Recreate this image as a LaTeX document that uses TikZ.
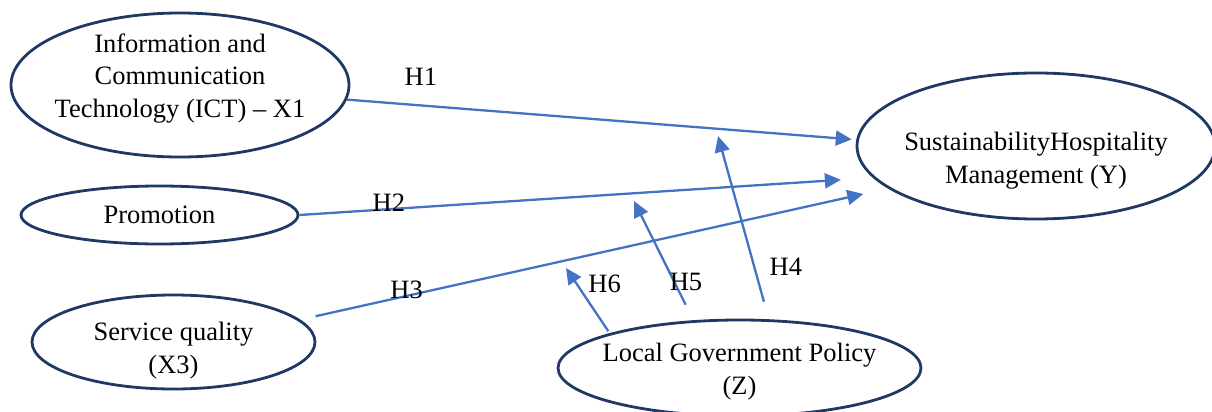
\documentclass[tikz,border=0pt]{standalone}
\usepackage{fontspec}
\setmainfont{Liberation Serif}
\usepackage{tikz}
\usetikzlibrary{shapes.geometric,arrows.meta}

\definecolor{ovalline}{HTML}{203864}
\definecolor{hypline}{HTML}{4472C4}

\begin{document}
\begin{tikzpicture}[x=1pt,y=-1pt,
    font=\fontsize{26.5}{32.5}\selectfont,
    var/.style={shape=ellipse,draw=ovalline,line width=2.8pt,align=center,inner sep=-30pt},
    hyp/.style={draw=hypline,line width=2.3pt,-{Triangle[length=16pt,width=15pt]}},
    hlabel/.style={inner sep=0pt}]
	\useasboundingbox (0,0) rectangle (1212,412);

	% variables
	\node[var,minimum width=338pt,minimum height=144pt] (ict) at (180,85) {Information and\\Communication\\Technology (ICT) \textendash{} X1\rule[-18.9pt]{0pt}{18.9pt}};
	\node[var,minimum width=277pt,minimum height=58pt] (promo) at (159.5,215) {Promotion};
	\node[var,minimum width=283pt,minimum height=94pt] (svc) at (173.5,342) {\rule{0pt}{36pt}Service quality\\(X3)};
	\node[var,minimum width=358pt,minimum height=146pt] (Y) at (1036,146) {\rule{0pt}{47.6pt}SustainabilityHospitality\\Management (Y)};
	\node[var,minimum width=363pt,minimum height=96pt] (zpol) at (739.5,368) {\rule{0pt}{25.6pt}Local Government Policy\\(Z)};

	% ends of the moderating arrows
	\coordinate (h4end) at (718,136);
	\coordinate (h5end) at (634,201);
	\coordinate (h6end) at (566,268);

	\path (ict.-5) edge[hyp,shorten >=4.5pt] node[hlabel,pos=0.145,yshift=28.7pt]{H1} (Y.178);
	\path (promo.east) edge[hyp,shorten >=32pt] node[hlabel,pos=0.156,yshift=6.2pt]{H2} (Y.191);
	\path (svc.10) edge[hyp,shorten <=15.7pt,shorten >=25.2pt] node[hlabel,pos=0.181,yshift=5.8pt]{H3} (Y.196);
	\path (zpol.59) edge[hyp,shorten <=18.2pt] node[hlabel,pos=0.285,xshift=31.5pt]{H4} (h4end);
	\path (zpol.134) edge[hyp,shorten <=17.3pt] node[hlabel,pos=0.32,xshift=11.6pt]{H5} (h5end);
	\path (zpol.165) edge[hyp,shorten <=2.4pt] node[hlabel,pos=0.758,xshift=28pt]{H6} (h6end);
\end{tikzpicture}
\end{document}
